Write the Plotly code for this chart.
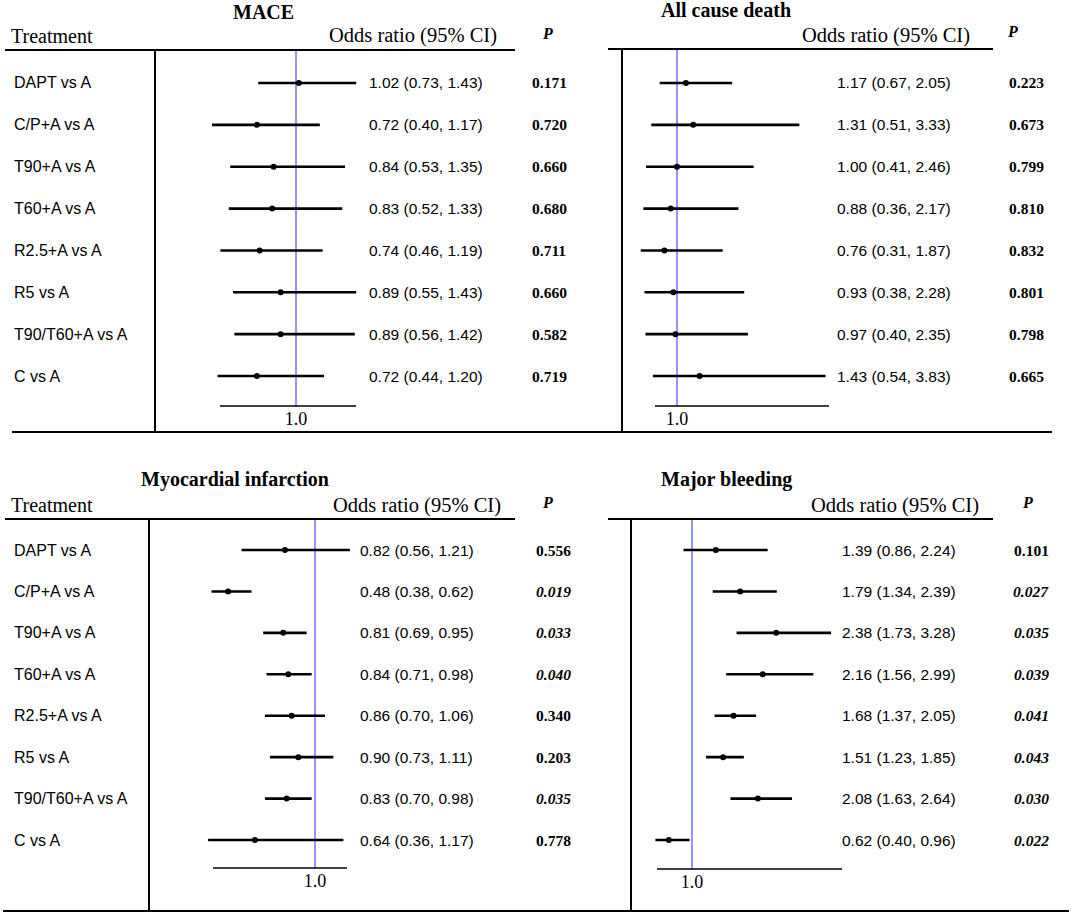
import plotly.graph_objects as go

W, H = 1072, 916

treatments = ["DAPT vs A", "C/P+A vs A", "T90+A vs A", "T60+A vs A",
              "R2.5+A vs A", "R5 vs A", "T90/T60+A vs A", "C vs A"]

# MACE
mace_or = [1.02, 0.72, 0.84, 0.83, 0.74, 0.89, 0.89, 0.72]
mace_lo = [0.73, 0.40, 0.53, 0.52, 0.46, 0.55, 0.56, 0.44]
mace_hi = [1.43, 1.17, 1.35, 1.33, 1.19, 1.43, 1.42, 1.20]
mace_p = ["0.171", "0.720", "0.660", "0.680", "0.711", "0.660", "0.582", "0.719"]

# All cause death
death_or = [1.17, 1.31, 1.00, 0.88, 0.76, 0.93, 0.97, 1.43]
death_lo = [0.67, 0.51, 0.41, 0.36, 0.31, 0.38, 0.40, 0.54]
death_hi = [2.05, 3.33, 2.46, 2.17, 1.87, 2.28, 2.35, 3.83]
death_p = ["0.223", "0.673", "0.799", "0.810", "0.832", "0.801", "0.798", "0.665"]

# Myocardial infarction
mi_or = [0.82, 0.48, 0.81, 0.84, 0.86, 0.90, 0.83, 0.64]
mi_lo = [0.56, 0.38, 0.69, 0.71, 0.70, 0.73, 0.70, 0.36]
mi_hi = [1.21, 0.62, 0.95, 0.98, 1.06, 1.11, 0.98, 1.17]
mi_p = ["0.556", "0.019", "0.033", "0.040", "0.340", "0.203", "0.035", "0.778"]

# Major bleeding
mb_or = [1.39, 1.79, 2.38, 2.16, 1.68, 1.51, 2.08, 0.62]
mb_lo = [0.86, 1.34, 1.73, 1.56, 1.37, 1.23, 1.63, 0.40]
mb_hi = [2.24, 2.39, 3.28, 2.99, 2.05, 1.85, 2.64, 0.96]
mb_p = ["0.101", "0.027", "0.035", "0.039", "0.041", "0.043", "0.030", "0.022"]

SANS = "Liberation Sans, Arial, sans-serif"
SERIF = "Liberation Serif, Times New Roman, serif"
BLUE = "#6f6fff"

# layout of each panel, in pixels of the 1072x916 page
panels = [
    dict(title="MACE", data=(mace_or, mace_lo, mace_hi, mace_p),
         title_x=231, title_y=12, one=296, ppu=140, left=156, right=366,
         span=(220, 356), or_x=367, p_cx=549, labels=True,
         odds_right=499, p_head=547, hline=(5, 515, 50),
         row0=83, step=41.86, ytop=50, ybot=432, axis=406),
    dict(title="All cause death", data=(death_or, death_lo, death_hi, death_p),
         title_x=659, title_y=10, one=677, ppu=52.5, left=623, right=832,
         span=(655, 829), or_x=835, p_cx=1026, labels=False,
         odds_right=972, p_head=1012, hline=(608, 993, 49),
         row0=83, step=41.86, ytop=50, ybot=432, axis=406),
    dict(title="Myocardial infarction", data=(mi_or, mi_lo, mi_hi, mi_p),
         title_x=139, title_y=479, one=315, ppu=167, left=150, right=356,
         span=(213, 347), or_x=358, p_cx=553, labels=True,
         odds_right=503, p_head=547, hline=(5, 515, 519),
         row0=550, step=41.43, ytop=519, ybot=910, axis=868),
    dict(title="Major bleeding", data=(mb_or, mb_lo, mb_hi, mb_p),
         title_x=659, title_y=479, one=692, ppu=61, left=632, right=846,
         span=(657, 842), or_x=840, p_cx=1031, labels=False,
         odds_right=981, p_head=1027, hline=(608, 993, 519),
         row0=550, step=41.43, ytop=519, ybot=910, axis=869),
]


def fx(px):
    return px / W


def fy(py):
    return 1 - py / H


fig = go.Figure()
annotations = []
shapes = []
rows = list(range(len(treatments)))

for k, pn in enumerate(panels, start=1):
    ors, los, his, ps = pn["data"]
    xa, ya = f"x{k}", f"y{k}"
    xkey = "xaxis" if k == 1 else f"xaxis{k}"
    ykey = "yaxis" if k == 1 else f"yaxis{k}"

    to_val = lambda px, pn=pn: 1 + (px - pn["one"]) / pn["ppu"]
    to_row = lambda py, pn=pn: (py - pn["row0"]) / pn["step"]

    fig.add_trace(go.Scatter(
        x=ors, y=rows, mode="markers", xaxis=xa, yaxis=ya,
        marker=dict(color="black", size=6),
        error_x=dict(type="data", symmetric=False,
                     array=[h - o for h, o in zip(his, ors)],
                     arrayminus=[o - l for o, l in zip(ors, los)],
                     width=0, thickness=2.6, color="black"),
        showlegend=False, hoverinfo="skip",
    ))

    fig.layout[xkey] = dict(
        domain=[fx(pn["left"]), fx(pn["right"])],
        range=[to_val(pn["left"]), to_val(pn["right"])],
        anchor="free", position=fy(pn["axis"]),
        showgrid=False, zeroline=False, showline=False, ticks="",
        tickvals=[1], ticktext=["1.0"],
        tickfont=dict(family=SERIF, size=18, color="black"),
        fixedrange=True,
    )
    fig.layout[ykey] = dict(
        domain=[fy(pn["ybot"]), fy(pn["ytop"])],
        range=[to_row(pn["ybot"]), to_row(pn["ytop"])],
        anchor=xa, showgrid=False, zeroline=False, showticklabels=False,
        showline=True, linecolor="black", linewidth=1.5, ticks="",
        fixedrange=True,
    )

    # reference line at OR = 1 (under the markers)
    shapes.append(dict(type="line", xref=xa, yref=ya, x0=1, x1=1, layer="below",
                       y0=to_row(pn["hline"][2]), y1=to_row(pn["axis"]),
                       line=dict(color=BLUE, width=1.5)))
    # short axis line under the forest
    shapes.append(dict(type="line", xref=xa, yref=ya,
                       x0=to_val(pn["span"][0]), x1=to_val(pn["span"][1]),
                       y0=to_row(pn["axis"]), y1=to_row(pn["axis"]),
                       line=dict(color="black", width=1.3)))
    # header rule
    x0, x1, yy = pn["hline"]
    shapes.append(dict(type="line", xref="paper", yref="paper",
                       x0=fx(x0), x1=fx(x1), y0=fy(yy), y1=fy(yy),
                       line=dict(color="black", width=2)))

    # titles and headers
    annotations.append(dict(text=f"<b>{pn['title']}</b>", xref="paper", yref="paper",
                            x=fx(pn["title_x"]), y=fy(pn["title_y"]),
                            xanchor="left", yanchor="middle", showarrow=False,
                            font=dict(family=SERIF, size=20, color="black")))
    head_y = fy(pn["hline"][2] - 14)
    if pn["labels"]:
        annotations.append(dict(text="Treatment", xref="paper", yref="paper",
                                x=fx(9), y=head_y, xanchor="left", yanchor="middle",
                                showarrow=False,
                                font=dict(family=SERIF, size=20, color="black")))
    annotations.append(dict(text="Odds ratio (95% CI)", xref="paper", yref="paper",
                            x=fx(pn["odds_right"]), y=head_y,
                            xanchor="right", yanchor="middle", showarrow=False,
                            font=dict(family=SERIF, size=20.5, color="black")))
    annotations.append(dict(text="<b><i>P</i></b>", xref="paper", yref="paper",
                            x=fx(pn["p_head"]), y=fy(pn["hline"][2] - 17),
                            xanchor="center", yanchor="middle", showarrow=False,
                            font=dict(family=SERIF, size=16, color="black")))

    for i, name in enumerate(treatments):
        if pn["labels"]:
            annotations.append(dict(text=name, xref="paper", yref=ya,
                                    x=fx(12), y=i, xanchor="left", yanchor="middle",
                                    showarrow=False,
                                    font=dict(family=SANS, size=16, color="black")))
        annotations.append(dict(text=f"{ors[i]:.2f} ({los[i]:.2f}, {his[i]:.2f})",
                                xref="paper", yref=ya, x=fx(pn["or_x"]), y=i,
                                xanchor="left", yanchor="middle", showarrow=False,
                                font=dict(family=SANS, size=15.5, color="black")))
        ptxt = f"<b><i>{ps[i]}</i></b>" if float(ps[i]) < 0.05 else f"<b>{ps[i]}</b>"
        annotations.append(dict(text=ptxt, xref="paper", yref=ya,
                                x=fx(pn["p_cx"]), y=i, xanchor="center", yanchor="middle",
                                showarrow=False,
                                font=dict(family=SERIF, size=15.5, color="black")))

# panel separators
for x0, x1, yy in [(12, 1052, 432), (3, 1069, 911)]:
    shapes.append(dict(type="line", xref="paper", yref="paper",
                       x0=fx(x0), x1=fx(x1), y0=fy(yy), y1=fy(yy),
                       line=dict(color="black", width=2)))

fig.update_layout(
    width=W, height=H,
    margin=dict(l=0, r=0, t=0, b=0),
    paper_bgcolor="white", plot_bgcolor="white",
    annotations=annotations, shapes=shapes,
    showlegend=False,
)

# the page body has a default 8px margin; drop it so the figure fills the window
fig.write_html("out.html", config={"displayModeBar": False},
               post_script="document.body.style.margin = '0';")
